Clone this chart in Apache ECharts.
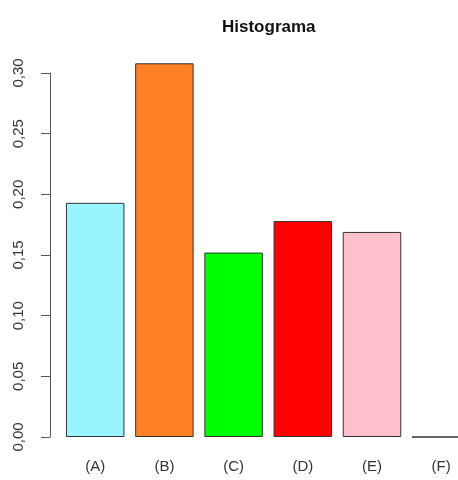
<!DOCTYPE html>
<html>
<head>
<meta charset="utf-8">
<script src="https://cdn.jsdelivr.net/npm/echarts@6/dist/echarts.min.js"></script>
<style>
  html, body { margin: 0; padding: 0; background: #fff; }
  #chart { width: 458px; height: 480px; }
</style>
</head>
<body>
<div id="chart"></div>
<script>
// Relative frequency per class
const categories = ['(A)', '(B)', '(C)', '(D)', '(E)', '(F)'];
const frequencies = [0.193, 0.308, 0.152, 0.178, 0.169, 0.0];
const barColors = ['#98F5FF', '#FF7F24', '#00FF00', '#FF0000', '#FFC0CB', '#7F7F7F'];
const yTicks = [0, 0.05, 0.10, 0.15, 0.20, 0.25, 0.30];

const chart = echarts.init(document.getElementById('chart'), null, { renderer: 'canvas' });

const fmt = v => v.toFixed(2).replace('.', ',');

chart.setOption({
  animation: false,
  backgroundColor: '#ffffff',
  textStyle: { fontFamily: 'Liberation Sans, Arial, sans-serif' },
  title: {
    text: 'Histograma',
    left: 217,
    top: 14,
    textStyle: { fontSize: 17, fontWeight: 'bold', color: '#111', fontFamily: 'Liberation Sans, Arial, sans-serif' }
  },
  // plot region runs past the right edge of the canvas
  grid: { left: 60.6, width: 415.2, top: 73, bottom: 43, containLabel: false, outerBoundsMode: 'none' },
  xAxis: {
    type: 'category',
    data: categories,
    axisLine: { show: false },
    axisTick: { show: false },
    axisLabel: { color: '#333', fontSize: 15, margin: 22 }
  },
  yAxis: {
    type: 'value',
    min: yTicks[0],
    max: yTicks[yTicks.length - 1],
    interval: 0.05,
    offset: 10.6,
    splitLine: { show: false },
    axisLine: { show: true, lineStyle: { color: '#555', width: 1 } },
    axisTick: { show: true, length: 9, lineStyle: { color: '#555', width: 1 } },
    axisLabel: { color: '#333', fontSize: 15, rotate: 90, margin: 24, formatter: fmt }
  },
  series: [{
    type: 'bar',
    clip: false,
    barCategoryGap: '15.5%',
    data: frequencies.map((v, i) => ({
      value: v,
      itemStyle: { color: barColors[i], borderColor: '#333', borderWidth: 1 }
    }))
  }]
});
</script>
</body>
</html>
